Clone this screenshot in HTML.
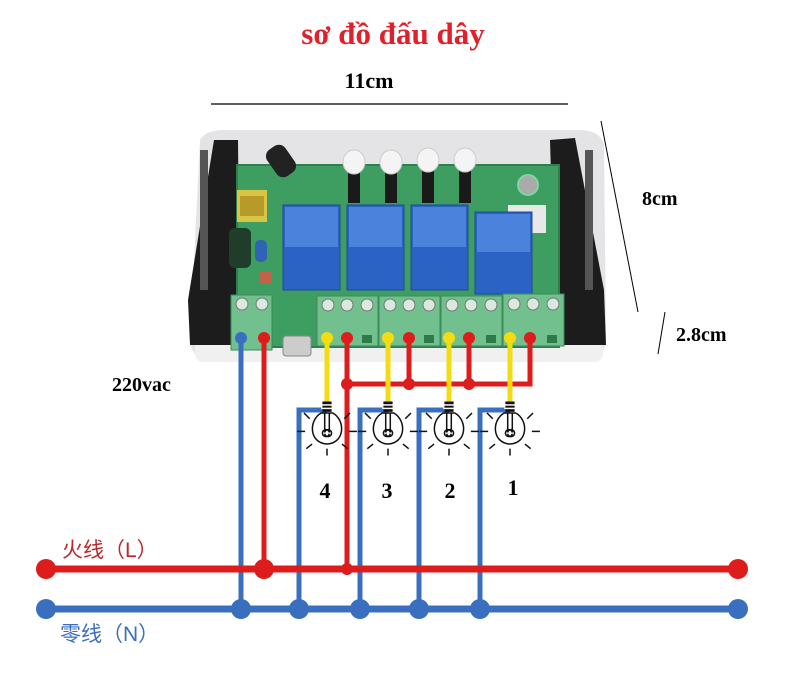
<!DOCTYPE html>
<html><head><meta charset="utf-8"><style>
html,body{margin:0;padding:0;background:#fff;}
svg{display:block;}
</style></head><body>
<svg width="796" height="673" viewBox="0 0 796 673" xmlns="http://www.w3.org/2000/svg">
<rect width="796" height="673" fill="#fff"/>
<text x="393" y="44" text-anchor="middle" font-family="Liberation Serif, serif" font-weight="bold" font-size="31" fill="#e0202a">sơ đồ đấu dây</text>
<text x="369" y="88" text-anchor="middle" font-family="Liberation Serif, serif" font-weight="bold" font-size="22" fill="#000">11cm</text>
<line x1="211" y1="104" x2="568" y2="104" stroke="#000" stroke-width="1.2"/>
<line x1="601" y1="121" x2="638" y2="312" stroke="#000" stroke-width="1"/>
<text x="642" y="205" font-family="Liberation Serif, serif" font-weight="bold" font-size="20">8cm</text>
<line x1="665" y1="312" x2="658" y2="354" stroke="#000" stroke-width="1"/>
<text x="676" y="341" font-family="Liberation Serif, serif" font-weight="bold" font-size="20">2.8cm</text>
<text x="112" y="391" font-family="Liberation Serif, serif" font-weight="bold" font-size="20">220vac</text>

<!-- case -->
<path d="M200 140 Q205 130 225 130 L580 130 Q600 130 604 145 L606 340 Q604 362 580 362 L215 362 Q192 362 190 340 Z" fill="#e4e4e6"/>
<rect x="195" y="340" width="408" height="22" rx="8" fill="#f0f0f0"/>
<path d="M214 140 L238 140 L240 345 L190 345 L188 300 Z" fill="#1c1c1c"/>
<path d="M550 140 L575 138 L604 290 L606 345 L556 345 Z" fill="#1c1c1c"/>
<rect x="200" y="150" width="8" height="140" fill="#555"/>
<rect x="585" y="150" width="8" height="140" fill="#555"/>
<!-- pcb -->
<rect x="237" y="165" width="322" height="182" fill="#3e9e62"/>
<rect x="237" y="165" width="322" height="182" fill="none" stroke="#2d7f4c" stroke-width="2"/>
<rect x="270" y="145" width="22" height="32" rx="8" fill="#222" transform="rotate(-35 281 161)"/>
<rect x="237" y="190" width="30" height="32" fill="#d9c545"/>
<rect x="240" y="196" width="24" height="20" fill="#b89a2a"/>
<rect x="229" y="228" width="22" height="40" rx="6" fill="#1f3d2a"/>
<rect x="255" y="240" width="12" height="22" rx="5" fill="#2f63b5"/>
<rect x="260" y="272" width="12" height="12" fill="#c0634a"/>
<g fill="#1a1a1a"><rect x="348" y="165" width="12" height="38"/><rect x="385" y="165" width="12" height="38"/><rect x="422" y="165" width="12" height="38"/><rect x="459" y="165" width="12" height="38"/></g>
<g fill="#f4f4f4" stroke="#ccc"><ellipse cx="354" cy="162" rx="11" ry="12"/><ellipse cx="391" cy="162" rx="11" ry="12"/><ellipse cx="428" cy="160" rx="11" ry="12"/><ellipse cx="465" cy="160" rx="11" ry="12"/></g>
<rect x="508" y="205" width="38" height="28" fill="#e8e8e8"/>
<circle cx="528" cy="185" r="10" fill="#aaa" stroke="#7dd7a0" stroke-width="2"/>
<g fill="#2b63c5" stroke="#1e4a98">
<rect x="283" y="205" width="57" height="85"/>
<rect x="347" y="205" width="57" height="85"/>
<rect x="411" y="205" width="57" height="85"/>
<rect x="475" y="212" width="57" height="82"/>
</g>
<g fill="#4a82dc"><rect x="285" y="207" width="53" height="40"/><rect x="349" y="207" width="53" height="40"/><rect x="413" y="207" width="53" height="40"/><rect x="477" y="214" width="53" height="38"/></g>
<g fill="#72c08e" stroke="#3d8a5a">
<rect x="231" y="295" width="41" height="55"/>
<rect x="317" y="296" width="61" height="50"/>
<rect x="379" y="296" width="61" height="50"/>
<rect x="441" y="296" width="61" height="50"/>
<rect x="503" y="294" width="61" height="52"/>
</g>
<g fill="#d9e9dd" stroke="#777">
<circle cx="242" cy="304" r="6"/><circle cx="262" cy="304" r="6"/>
<circle cx="328" cy="305" r="6"/><circle cx="347" cy="305" r="6"/><circle cx="367" cy="305" r="6"/>
<circle cx="390" cy="305" r="6"/><circle cx="409" cy="305" r="6"/><circle cx="429" cy="305" r="6"/>
<circle cx="452" cy="305" r="6"/><circle cx="471" cy="305" r="6"/><circle cx="491" cy="305" r="6"/>
<circle cx="514" cy="304" r="6"/><circle cx="533" cy="304" r="6"/><circle cx="553" cy="304" r="6"/>
</g>
<g fill="#2e7a4b"><rect x="362" y="335" width="10" height="8"/><rect x="424" y="335" width="10" height="8"/><rect x="486" y="335" width="10" height="8"/><rect x="547" y="335" width="10" height="8"/></g>
<rect x="283" y="336" width="28" height="20" rx="3" fill="#ccc" stroke="#888"/>

<g fill="none" stroke-width="5">
<polyline points="241,338 241,609" stroke="#3a6fc0"/>
<polyline points="264,338 264,569" stroke="#dd1c1c"/>
<polyline points="347,338 347,569" stroke="#dd1c1c"/>
<polyline points="347,384 530,384 530,338" stroke="#dd1c1c"/>
<line x1="409" y1="338" x2="409" y2="384" stroke="#dd1c1c"/>
<line x1="469" y1="338" x2="469" y2="384" stroke="#dd1c1c"/>
<g stroke="#f5dc10"><line x1="327" y1="338" x2="327" y2="403"/><line x1="388" y1="338" x2="388" y2="403"/><line x1="449" y1="338" x2="449" y2="403"/><line x1="510" y1="338" x2="510" y2="403"/></g>
<g stroke="#3a6fc0">
<polyline points="327,410 299,410 299,609"/>
<polyline points="388,410 360,410 360,609"/>
<polyline points="449,410 419,410 419,609"/>
<polyline points="510,410 480,410 480,609"/>
</g>
<line x1="46" y1="569" x2="738" y2="569" stroke="#dd1c1c" stroke-width="7"/>
<line x1="46" y1="609" x2="738" y2="609" stroke="#3a6fc0" stroke-width="7"/>
</g>
<g fill="#dd1c1c"><circle cx="264" cy="338" r="6"/><circle cx="347" cy="338" r="6"/><circle cx="409" cy="338" r="6"/><circle cx="469" cy="338" r="6"/><circle cx="530" cy="338" r="6"/>
<circle cx="347" cy="384" r="6"/><circle cx="409" cy="384" r="6"/><circle cx="469" cy="384" r="6"/>
<circle cx="46" cy="569" r="10"/><circle cx="264" cy="569" r="10"/><circle cx="347" cy="569" r="6"/><circle cx="738" cy="569" r="10"/></g>
<g fill="#f5dc10"><circle cx="327" cy="338" r="6"/><circle cx="388" cy="338" r="6"/><circle cx="449" cy="338" r="6"/><circle cx="510" cy="338" r="6"/></g>
<g fill="#3a6fc0"><circle cx="241" cy="338" r="6"/><circle cx="46" cy="609" r="10"/><circle cx="241" cy="609" r="10"/><circle cx="299" cy="609" r="10"/><circle cx="360" cy="609" r="10"/><circle cx="419" cy="609" r="10"/><circle cx="480" cy="609" r="10"/><circle cx="738" cy="609" r="10"/></g>

<defs>
<g id="bulb" fill="none" stroke="#111" stroke-width="1.3">
<rect x="-4" y="-30" width="8" height="9" fill="#111" stroke="none"/>
<line x1="-5" y1="-27" x2="5" y2="-27" stroke="#fff"/><line x1="-5" y1="-24" x2="5" y2="-24" stroke="#fff"/>
<path d="M-5 -20 C-16 -14 -16 6 0 7 C16 6 16 -14 5 -20 Z" fill="#fff"/>
<path d="M-2 -20 L-2 -3 M2 -20 L2 -3 M-2 -3 a3 3 0 1 1 0 1 M2 -3 a3 3 0 1 0 0 1"/>
<line x1="-26" y1="-4" x2="-19" y2="-4"/><line x1="19" y1="-4" x2="26" y2="-4"/>
<line x1="-20" y1="-20" x2="-15" y2="-15"/><line x1="20" y1="-20" x2="15" y2="-15"/>
<line x1="-18" y1="11" x2="-13" y2="7"/><line x1="18" y1="11" x2="13" y2="7"/>
<line x1="0" y1="11" x2="0" y2="17"/>
</g></defs>
<g transform="translate(327 436) scale(1.15)"><use href="#bulb"/></g>
<g transform="translate(388 436) scale(1.15)"><use href="#bulb"/></g>
<g transform="translate(449 436) scale(1.15)"><use href="#bulb"/></g>
<g transform="translate(510 436) scale(1.15)"><use href="#bulb"/></g>
<g font-family="Liberation Serif, serif" font-weight="bold" font-size="22" text-anchor="middle">
<text x="325" y="498">4</text><text x="387" y="498">3</text><text x="450" y="498">2</text><text x="513" y="495">1</text></g>
<text x="62" y="557" font-family="Liberation Sans, 'Noto Sans CJK SC', sans-serif" font-size="21" fill="#c0262a">火线（L）</text>
<text x="60" y="641" font-family="Liberation Sans, 'Noto Sans CJK SC', sans-serif" font-size="21" fill="#3a6fc0">零线（N）</text>
</svg>
</body></html>
